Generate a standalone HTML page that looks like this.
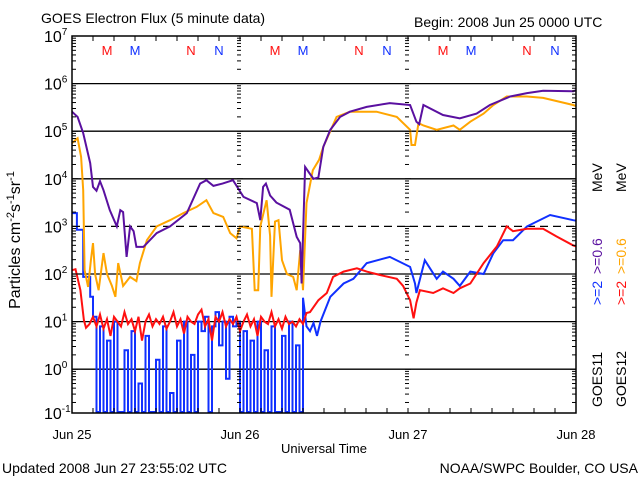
<!DOCTYPE html>
<html><head><meta charset="utf-8"><style>
body{margin:0;background:#fff;}
svg{display:block;font-family:"Liberation Sans",sans-serif;}
</style></head><body>
<svg id="chart" width="640" height="480">
<text x="41" y="23" font-size="14">GOES Electron Flux (5 minute data)</text>
<text x="414" y="27" font-size="14">Begin: 2008 Jun 25 0000 UTC</text>
<g id="grid"></g>
<g id="series"></g>
<g id="axes"></g>
<text x="324" y="453" font-size="13" text-anchor="middle">Universal Time</text>
<text x="2" y="473" font-size="14">Updated 2008 Jun 27 23:55:02 UTC</text>
<text x="638" y="473" font-size="14" text-anchor="end">NOAA/SWPC Boulder, CO USA</text>
<text transform="translate(20,240) rotate(-90)" font-size="16" text-anchor="middle">Particles cm<tspan dy="-6" font-size="11">-2</tspan><tspan dy="6">s</tspan><tspan dy="-6" font-size="11">-1</tspan><tspan dy="6">sr</tspan><tspan dy="-6" font-size="11">-1</tspan></text>
<g font-size="14">
<text transform="translate(602,407) rotate(-90)">GOES11</text>
<text transform="translate(626,407) rotate(-90)">GOES12</text>
<text transform="translate(602,305) rotate(-90)" fill="#1030ff">&gt;=2</text>
<text transform="translate(626,305) rotate(-90)" fill="#ff1010">&gt;=2</text>
<text transform="translate(602,274) rotate(-90)" fill="#5a10a0">&gt;=0.6</text>
<text transform="translate(626,274) rotate(-90)" fill="#ffa500">&gt;=0.6</text>
<text transform="translate(602,192) rotate(-90)">MeV</text>
<text transform="translate(626,192) rotate(-90)">MeV</text>
</g>
</svg>
<script>
// data: [hour since Jun 25 00:00, log10(flux)]
const dayLabels = ["Jun 25","Jun 26","Jun 27","Jun 28"];
const decades = [-1,0,1,2,3,4,5,6,7];
const markerLabels = [["M",5,"#ff1010"],["M",9,"#1030ff"],["N",17,"#ff1010"],["N",21,"#1030ff"]];
const purple = [[0,5.41],[0.8,5.3],[1.6,4.96],[2.6,4.33],[3.0,3.83],[3.5,3.75],[4.0,3.95],[4.5,3.76],[5.4,3.34],[6.4,3.0],[6.9,3.34],[7.3,3.3],[7.8,2.36],[8.3,3.0],[8.8,2.9],[9.2,2.57],[10.2,2.57],[12.1,2.86],[14,3.0],[16.4,3.28],[18.3,3.9],[19.2,3.97],[20.2,3.85],[21.5,3.9],[23.0,3.97],[24.5,3.62],[26.4,3.49],[26.9,3.13],[27.3,3.83],[27.7,3.9],[28.3,3.65],[29.2,3.5],[31.1,3.35],[32.1,2.78],[32.6,2.65],[32.8,1.8],[33.3,4.25],[34.0,4.1],[34.5,4.0],[35.2,4.03],[35.9,4.67],[36.9,5.03],[38.3,5.30],[39.7,5.41],[42.1,5.51],[45.4,5.59],[48.3,5.55],[49.2,5.2],[49.6,5.15],[50.2,5.55],[53,5.34],[55.4,5.27],[57.8,5.37],[59.7,5.55],[62.6,5.73],[65,5.8],[67.3,5.85],[71.6,5.84],[72,5.86]];
const orange = [[0,4.75],[0.8,4.85],[1.3,4.46],[1.6,3.76],[1.8,2.08],[2.3,1.73],[2.7,2.29],[3.0,2.65],[3.3,2.0],[3.8,1.66],[4.5,2.44],[5.0,2.0],[5.7,1.75],[6.2,1.52],[6.6,2.23],[7.3,1.75],[8.3,1.94],[9.2,1.85],[9.7,2.23],[10.7,2.71],[12.1,3.0],[14,3.13],[15.9,3.28],[17.8,3.41],[19.2,3.55],[20.2,3.28],[21.6,3.2],[22.6,2.86],[23.5,2.75],[24.0,3.0],[25.7,2.95],[26.1,1.66],[26.6,1.66],[26.9,3.0],[27.8,3.55],[28.3,2.8],[28.5,1.52],[29.0,3.1],[29.5,3.13],[30.0,2.29],[30.7,2.0],[31.6,1.94],[32.1,1.66],[32.6,2.5],[33.0,1.66],[33.5,3.49],[34.4,4.18],[35.3,4.4],[35.9,4.67],[37.8,5.30],[39.7,5.41],[43.5,5.41],[46.4,5.3],[48.3,5.03],[48.5,4.71],[49.0,4.71],[49.5,5.17],[50.2,5.12],[52.1,5.03],[54.5,5.12],[55.4,5.03],[56.9,5.2],[58.8,5.37],[60.2,5.55],[62.1,5.73],[65,5.73],[67.3,5.7],[71.6,5.55],[72,5.53]];
const blue = [[0,3.28],[0.7,2.93],[1.6,1.94],[2.6,1.52],[3.0,1.1],[3.5,-0.9],[4.0,0.9],[4.5,-0.9],[5.0,0.6],[5.5,-0.9],[6.0,1.0],[6.5,-0.9],[7.0,-0.9],[7.5,0.4],[8.0,-0.9],[8.5,0.8],[9.0,-0.9],[9.5,-0.3],[10.0,-0.9],[10.5,0.7],[11.0,-0.9],[11.5,-0.9],[12.0,0.2],[12.5,-0.9],[13.0,0.9],[13.5,-0.9],[14.0,-0.5],[14.5,-0.9],[15.0,0.6],[15.5,-0.9],[16.0,1.0],[16.5,-0.9],[17.0,0.3],[17.5,-0.9],[18.0,1.0],[18.5,0.8],[19.0,1.1],[19.5,-0.9],[20.0,0.9],[20.5,1.2],[21.0,0.5],[21.5,1.0],[22.0,-0.2],[22.5,1.1],[23.0,0.9],[23.5,1.0],[24.0,-0.9],[24.5,0.8],[25.0,-0.9],[25.5,0.6],[26.0,-0.9],[26.5,1.0],[27.0,-0.9],[27.5,0.4],[28.0,-0.9],[28.5,0.9],[29.0,-0.9],[29.5,-0.9],[30.0,0.7],[30.5,-0.9],[31.0,1.0],[31.5,-0.9],[32.0,0.5],[32.5,-0.9],[33.0,1.5],[33.5,0.9],[34.0,0.8],[34.5,0.97],[35.0,0.7],[35.5,1.0],[36.9,1.52],[38.8,1.8],[40.2,1.9],[42.1,2.23],[45.4,2.36],[48.3,2.15],[49.0,1.8],[49.2,1.6],[50.4,2.29],[52.1,1.9],[53,2.05],[54.5,1.9],[55.4,1.75],[56.9,2.05],[58.8,2.0],[60.2,2.44],[61.6,2.71],[63,2.71],[65,3.0],[68.3,3.24],[71.6,3.13],[72,3.12]];
const red = [[0,2.08],[0.5,2.1],[1.2,1.66],[1.7,1.03],[2.0,0.87],[2.5,0.95],[3.0,1.1],[3.5,0.9],[4.0,1.15],[4.5,0.85],[5.0,1.05],[5.5,0.7],[6.0,1.1],[6.5,1.0],[7.0,0.9],[7.5,1.2],[8.0,0.95],[8.5,1.05],[9.0,0.8],[9.5,1.1],[10.0,0.6],[10.5,1.0],[11.0,1.15],[11.5,0.9],[12.0,1.05],[12.5,0.95],[13.0,1.1],[13.5,0.85],[14.0,1.0],[14.5,1.2],[15.0,0.9],[15.5,1.05],[16.0,0.75],[16.5,1.1],[17.0,1.0],[17.5,0.95],[18.0,1.15],[18.5,1.25],[19.0,0.9],[19.5,1.05],[20.0,0.6],[20.5,1.1],[21.0,1.0],[21.5,1.2],[22.0,0.9],[22.5,1.05],[23.0,0.95],[23.5,1.1],[24.0,0.8],[24.5,1.0],[25.0,1.15],[25.5,0.9],[26.0,1.05],[26.5,0.7],[27.0,1.1],[27.5,1.0],[28.0,0.95],[28.5,1.2],[29.0,0.9],[29.5,1.05],[30.0,0.85],[30.5,1.1],[31.0,0.95],[31.5,1.0],[32.0,0.9],[32.5,1.05],[33.0,0.95],[33.5,1.18],[34.0,1.2],[35.2,1.45],[36.4,1.6],[37.3,1.94],[38.8,2.05],[40.7,2.12],[42.1,2.05],[44,1.98],[46.4,1.9],[47.3,1.75],[48.3,1.45],[48.8,1.07],[49.2,1.4],[49.7,1.66],[51.6,1.6],[53,1.7],[54.5,1.6],[55.4,1.7],[56.9,1.8],[58.8,2.23],[60.7,2.58],[62.1,3.0],[63,2.9],[65,2.95],[67.3,2.95],[69.2,2.79],[71.6,2.6],[72,2.58]];

const NS = "http://www.w3.org/2000/svg";
const X0 = 72, X1 = 576, Y0 = 36, Y1 = 413, DEC = 47.6;
function xs(h){ return X0 + h * (X1 - X0) / 72; }
function ys(v){ return Math.min(Y1, Y0 + (7 - v) * DEC); }
function mk(tag, attrs, parent){ const e = document.createElementNS(NS, tag); for (const k in attrs) e.setAttribute(k, attrs[k]); parent.appendChild(e); return e; }

const grid = document.getElementById("grid");
const axes = document.getElementById("axes");
const series = document.getElementById("series");

decades.forEach(d => {
  const y = ys(d);
  if (d > -1 && d < 7) {
    const l = mk("line", {x1:X0, x2:X1, y1:y, y2:y, stroke:"#000", "stroke-width":1.3}, grid);
    if (d === 3) l.setAttribute("stroke-dasharray", "8,5");
    
    
  }
  const t = mk("text", {x:44, y:y + 6, "font-size":16}, axes);
  t.textContent = "10";
  const s = mk("tspan", {dy:-7, "font-size":10}, t);
  s.textContent = String(d);
  
  
  if (d < 7) {
    for (let m = 1; m <= 9; m++) {
      const yy = ys(d + Math.log10(m));
      if (yy > Y1 || yy < Y0) continue;
      const len = m === 1 ? 6 : 4;
      [X0, X1 - len, xs(24) - 3, xs(48) - 3].forEach(xx => {
        const tk = mk("line", {x1:xx, x2:xx + len, y1:yy, y2:yy, stroke:"#000", "stroke-width":1}, axes);
        
        
      });
    }
  }
});

for (let h = 0; h <= 72; h += 3) {
  const x = xs(h);
  [[Y1, Y1 - 5], [Y0, Y0 + 5]].forEach(p => {
    const tk = mk("line", {x1:x, x2:x, y1:p[0], y2:p[1], stroke:"#000", "stroke-width":1}, axes);
    
    
  });
}
dayLabels.forEach((lab, i) => {
  const t = mk("text", {x:xs(i * 24), y:439, "font-size":13, "text-anchor":"middle"}, axes);
  t.textContent = lab;
  
  
});
for (let day = 0; day < 3; day++) {
  markerLabels.forEach(m => {
    const t = mk("text", {x:xs(day * 24 + m[1]), y:55, "font-size":13, "text-anchor":"middle", fill:m[2]}, axes);
    t.textContent = m[0];
    
    
  });
}
const frame = mk("rect", {x:X0, y:Y0, width:X1 - X0, height:Y1 - Y0, fill:"none", stroke:"#000", "stroke-width":1.5}, axes);



function drawSeries(pts, color, name, stepUntil){
  let d = "M" + xs(pts[0][0]).toFixed(1) + "," + ys(pts[0][1]).toFixed(1);
  for (let i = 1; i < pts.length; i++) {
    if (pts[i][0] <= stepUntil) d += "H" + xs(pts[i][0]).toFixed(1) + "V" + ys(pts[i][1]).toFixed(1);
    else d += "L" + xs(pts[i][0]).toFixed(1) + "," + ys(pts[i][1]).toFixed(1);
  }
  const path = mk("path", {d:d, fill:"none", stroke:color, "stroke-width":2}, series);
  
  
}
drawSeries(blue, "#1030ff", "goes11-2mev-line", 33);
drawSeries(red, "#ff1010", "goes12-2mev-line", -1);
drawSeries(orange, "#ffa500", "goes12-06mev-line", -1);
drawSeries(purple, "#5a10a0", "goes11-06mev-line", -1);
</script>
</body></html>
